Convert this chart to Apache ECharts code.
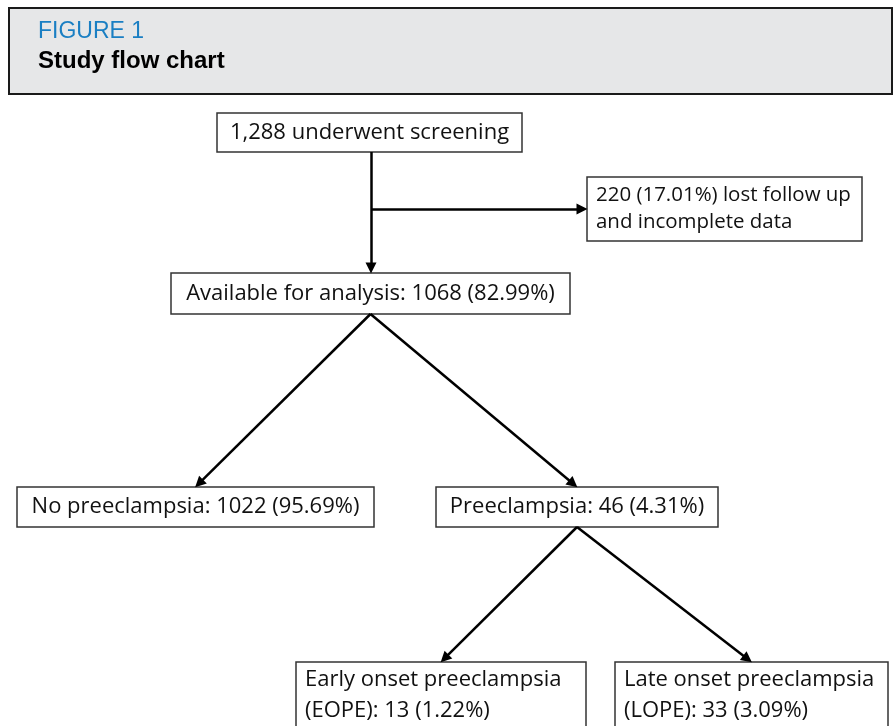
<!DOCTYPE html>
<html>
<head>
<meta charset="utf-8">
<script src="https://cdn.jsdelivr.net/npm/echarts@6/dist/echarts.min.js"></script>
<style>
  html, body { margin: 0; padding: 0; background: #fff; }
  #main { width: 895px; height: 726px; }
</style>
</head>
<body>
<div id="main"></div>
<script>
// node texts (study flow)
var nodeLabels = [
  '1,288 underwent screening',
  '220 (17.01%) lost follow up\nand incomplete data',
  'Available for analysis: 1068 (82.99%)',
  'No preeclampsia: 1022 (95.69%)',
  'Preeclampsia: 46 (4.31%)',
  'Early onset preeclampsia\n(EOPE): 13 (1.22%)',
  'Late onset preeclampsia\n(LOPE): 33 (3.09%)'
];
// links: [from, to, kind]  down = bottom-center -> top-center, side = trunk -> left edge
var links = [
  [0, 2, 'down'],
  [0, 1, 'side'],
  [2, 3, 'down'],
  [2, 4, 'down'],
  [4, 5, 'down'],
  [4, 6, 'down']
];

// layout of the boxes in page units [x0, y0, x1, y1]
var layout = [
  [217, 113, 522, 152],
  [587, 177, 862, 241],
  [171, 273, 570, 314],
  [17, 487, 374, 527],
  [436, 487, 718, 527],
  [296, 662, 586, 745],
  [615, 662, 888, 745]
];
var trunkX = 371;
var headLen = 5; // half of arrow head, so the tip sits on the box edge
var baseFont = 22;

var boxData = [];
for (var i = 0; i < layout.length; i++) {
  boxData.push([layout[i][0], layout[i][1], layout[i][2], layout[i][3], i]);
}

function pull(p, q) {
  // move q back toward p by headLen
  var dx = q[0] - p[0], dy = q[1] - p[1];
  var d = Math.sqrt(dx * dx + dy * dy);
  return [q[0] - dx / d * headLen, q[1] - dy / d * headLen];
}

var lineData = [];
for (var j = 0; j < links.length; j++) {
  var a = layout[links[j][0]], b = layout[links[j][1]];
  var s, t;
  if (links[j][2] == 'side') {
    var cy = (b[1] + b[3]) / 2;
    s = [trunkX, cy]; t = [b[0], cy];
  } else {
    var sx = links[j][0] == 0 ? trunkX : (a[0] + a[2]) / 2;
    var tx = links[j][0] == 0 ? trunkX : (b[0] + b[2]) / 2;
    s = [sx, a[3]]; t = [tx, b[1]];
  }
  lineData.push({coords: [s, pull(s, t)]});
}

// shrink the font if a line would not fit in its box
var measureCtx = document.createElement('canvas').getContext('2d');
function fitFont(label, boxW) {
  measureCtx.font = baseFont + 'px "Open Sans"';
  var w = 0;
  label.split('\n').forEach(function (l) {
    w = Math.max(w, measureCtx.measureText(l).width);
  });
  var room = boxW - 20;
  return w > room ? baseFont * room / w : baseFont;
}

var chart = echarts.init(document.getElementById('main'));
var option = {
  animation: false,
  backgroundColor: '#fff',
  graphic: [{
    type: 'rect',
    z: -1,
    shape: {x: 9, y: 8, width: 883, height: 86},
    style: {fill: '#e6e7e8', stroke: '#1a1a1a', lineWidth: 2}
  }],
  title: {
    left: 38,
    top: 20,
    padding: 0,
    itemGap: 6,
    text: 'FIGURE 1',
    textStyle: {color: '#1a7fc3', fontSize: 23, fontWeight: 'normal', fontFamily: 'Liberation Sans'},
    subtext: 'Study flow chart',
    subtextStyle: {color: '#000', fontSize: 24, fontWeight: 'bold', fontFamily: 'Liberation Sans'}
  },
  grid: {left: 0, right: 0, top: 0, bottom: 0},
  xAxis: {type: 'value', min: 0, max: 895, show: false},
  yAxis: {type: 'value', min: 0, max: 726, inverse: true, show: false},
  series: [
    {
      type: 'custom',
      clip: false,
      z: 2,
      data: boxData,
      renderItem: function (params, api) {
        var p0 = api.coord([api.value(0), api.value(1)]);
        var p1 = api.coord([api.value(2), api.value(3)]);
        var label = nodeLabels[api.value(4)];
        var multi = label.indexOf('\n') >= 0;
        var tall = (p1[1] - p0[1]) > 70;
        var fs = fitFont(label, p1[0] - p0[0]);
        return {
          type: 'group',
          children: [{
            type: 'rect',
            shape: {x: p0[0], y: p0[1], width: p1[0] - p0[0], height: p1[1] - p0[1]},
            style: {fill: '#fff', stroke: '#333', lineWidth: 1.5}
          }, {
            type: 'text',
            style: {
              text: label,
              x: multi ? p0[0] + 9 : (p0[0] + p1[0]) / 2,
              y: tall ? p0[1] + 2 : (p0[1] + p1[1]) / 2,
              align: multi ? 'left' : 'center',
              verticalAlign: tall ? 'top' : 'middle',
              lineHeight: tall ? 31 : 27,
              fontSize: fs,
              fontFamily: 'Open Sans',
              fill: '#111'
            }
          }]
        };
      }
    },
    {
      type: 'lines',
      coordinateSystem: 'cartesian2d',
      z: 3,
      symbol: ['none', 'triangle'],
      symbolSize: 11,
      lineStyle: {color: '#000', width: 2.5, opacity: 1},
      itemStyle: {color: '#000'},
      data: lineData
    }
  ]
};
chart.setOption(option);
</script>
</body>
</html>
